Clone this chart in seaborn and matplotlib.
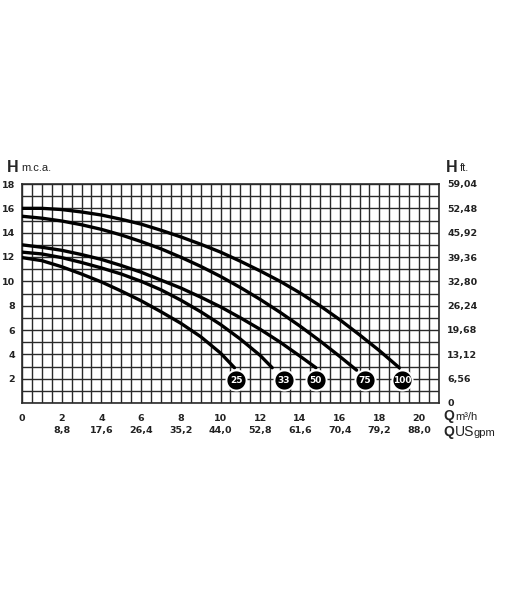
import matplotlib
matplotlib.use("Agg")
import matplotlib.pyplot as plt
import seaborn as sns
import pandas as pd
import numpy as np

# ---- data ----
models = ["25", "33", "50", "75", "100"]
q_25 = [0, 1, 2, 3, 4, 5, 6, 7, 8, 9, 10, 10.7]
h_25 = [11.95, 11.7, 11.2, 10.6, 9.95, 9.2, 8.4, 7.5, 6.55, 5.45, 4.1, 2.9]
q_33 = [0, 1, 2, 3, 4, 5, 6, 7, 8, 9, 10, 11, 12, 12.6]
h_33 = [12.4, 12.25, 11.95, 11.55, 11.1, 10.6, 10.0, 9.3, 8.45, 7.5, 6.45, 5.25, 3.9, 2.9]
q_50 = [0, 1, 2, 3, 4, 5, 6, 7, 8, 9, 10, 11, 12, 13, 14, 14.8]
h_50 = [13.0, 12.8, 12.55, 12.2, 11.8, 11.3, 10.75, 10.1, 9.45, 8.7, 7.9, 7.0, 6.05, 5.0, 3.85, 2.9]
q_75 = [0, 1, 2, 3, 4, 5, 6, 7, 8, 9, 10, 11, 12, 13, 14, 15, 16, 16.85]
h_75 = [15.35, 15.19, 14.96, 14.65, 14.27, 13.81, 13.27, 12.67, 11.98, 11.23, 10.4,
        9.49, 8.51, 7.45, 6.32, 5.11, 3.83, 2.7]
q_100 = [0, 1, 2, 3, 4, 5, 6, 7, 8, 9, 10, 11, 12, 13, 14, 15, 16, 17, 18, 19]
h_100 = [16.0, 16.0, 15.9, 15.7, 15.45, 15.1, 14.7, 14.2, 13.65, 13.05, 12.4, 11.65,
         10.85, 10.0, 9.05, 8.0, 6.85, 5.6, 4.3, 2.9]
badge_q = [10.8, 13.2, 14.8, 17.25, 19.15]
badge_h = [1.85, 1.85, 1.85, 1.85, 1.85]

x_ticks = [2, 4, 6, 8, 10, 12, 14, 16, 18, 20]
x_labels_m3h = ["0", "2", "4", "6", "8", "10", "12", "14", "16", "18", "20"]
x_labels_gpm = ["8,8", "17,6", "26,4", "35,2", "44,0", "52,8", "61,6", "70,4", "79,2", "88,0"]
y_ticks = [2, 4, 6, 8, 10, 12, 14, 16, 18]
y_ticks_ft = [0, 2, 4, 6, 8, 10, 12, 14, 16, 18]
y_labels_ft = ["0", "6,56", "13,12", "19,68", "26,24", "32,80", "39,36", "45,92", "52,48", "59,04"]

curves = {"25": (q_25, h_25), "33": (q_33, h_33), "50": (q_50, h_50),
          "75": (q_75, h_75), "100": (q_100, h_100)}
df = pd.concat([pd.DataFrame({"Q": q, "H": h, "model": m}) for m, (q, h) in curves.items()],
               ignore_index=True)

sns.set_theme(style="white")
plt.rcParams["font.family"] = ["Liberation Sans", "DejaVu Sans"]

W, Hh = 510, 600
fig = plt.figure(figsize=(W / 100, Hh / 100), dpi=100)
ax = fig.add_axes([22 / W, 1 - 403 / Hh, 417 / W, 219 / Hh])

sns.lineplot(data=df, x="Q", y="H", units="model", estimator=None, sort=False,
             color="black", lw=2.4, ax=ax, zorder=3)

ax.set_xlim(0, 21)
ax.set_ylim(0, 18)
ax.set_xlabel("")
ax.set_ylabel("")
tick_font = dict(fontsize=6.8, fontweight="bold", color="#222222", family="DejaVu Sans")
ax.set_xticks([0] + x_ticks)
ax.set_xticklabels(x_labels_m3h, **tick_font)
ax.set_yticks(y_ticks)
ax.set_yticklabels([str(v) for v in y_ticks], **tick_font)
ax.set_xticks(np.arange(0, 21.01, 0.5), minor=True)
ax.set_yticks(np.arange(0, 18.01, 1), minor=True)
ax.grid(which="both", color="#2a2a2a", lw=1.0)
ax.set_axisbelow(True)
for s in ax.spines.values():
    s.set_color("#2a2a2a")
    s.set_linewidth(1.2)
ax.tick_params(axis="x", which="major", length=0, pad=8)
ax.tick_params(axis="y", which="major", length=0, pad=5)
ax.tick_params(which="minor", length=0)

ax.scatter(badge_q, badge_h, s=210, color="black", edgecolor="white", linewidth=1.4, zorder=5)
for q, h, m in zip(badge_q, badge_h, models):
    ax.text(q, h, m, color="white", fontsize=6.5, fontweight="bold", ha="center",
            va="center", zorder=6, family="DejaVu Sans")

sec = ax.secondary_xaxis(-0.085)
sec.set_xticks(x_ticks)
sec.set_xticklabels(x_labels_gpm, **tick_font)
sec.tick_params(length=0, pad=3)
sec.spines["bottom"].set_visible(False)

axr = ax.twinx()
axr.set_ylim(0, 18)
axr.set_yticks(y_ticks_ft)
axr.set_yticklabels(y_labels_ft, **tick_font)
axr.tick_params(axis="y", length=0, pad=6)
for s in axr.spines.values():
    s.set_visible(False)
axr.grid(False)

# axis titles
fig.text(7 / W, 1 - 167 / Hh, "H", fontsize=11.5, fontweight="bold", va="center")
fig.text(21 / W, 1 - 168 / Hh, "m.c.a.", fontsize=8, va="center", color="#222222")
fig.text(446 / W, 1 - 167 / Hh, "H", fontsize=11.5, fontweight="bold", va="center")
fig.text(460 / W, 1 - 168 / Hh, "ft.", fontsize=8, va="center", color="#222222")
fig.text(443 / W, 1 - 416 / Hh, "Q", fontsize=10, fontweight="bold", va="center")
fig.text(455 / W, 1 - 417 / Hh, "m³/h", fontsize=8, va="center", color="#222222")
fig.text(443 / W, 1 - 432 / Hh, "Q", fontsize=10, fontweight="bold", va="center")
fig.text(455 / W, 1 - 432 / Hh, "US", fontsize=10, va="center", color="#222222")
fig.text(474 / W, 1 - 433 / Hh, "gpm", fontsize=8, va="center", color="#222222")

fig.savefig("out.png", dpi=100)
